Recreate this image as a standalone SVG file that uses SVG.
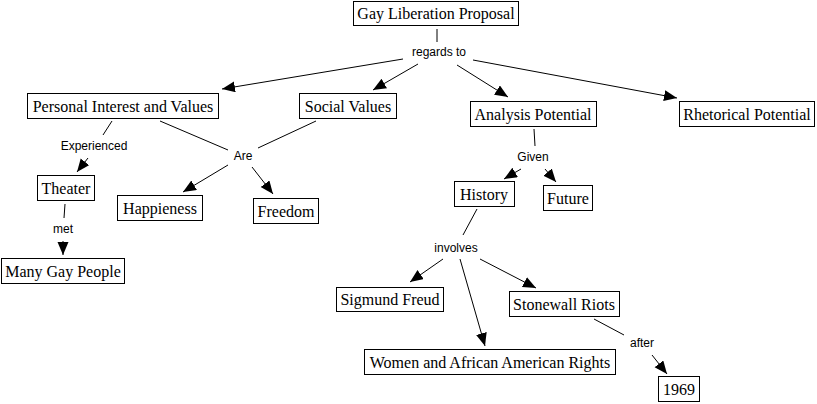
<svg xmlns="http://www.w3.org/2000/svg" width="817" height="404" viewBox="0 0 817 404">
<style>
.n rect{fill:#fff;stroke:#000;stroke-width:1}
.n text{font-family:"Liberation Serif","Times New Roman",serif;font-size:16px;fill:#000;text-anchor:middle}
.l{font-family:"Liberation Sans",Arial,sans-serif;font-size:12px;fill:#000;text-anchor:middle}
.c line{stroke:#000;stroke-width:1}
.a{marker-end:url(#ah)}
</style>
<defs>
<marker id="ah" markerUnits="userSpaceOnUse" markerWidth="14" markerHeight="12" refX="13" refY="5.5" orient="auto" viewBox="0 0 14 12">
<path d="M0,0 L13,5.5 L0,11 z" fill="#000"/>
</marker>
</defs>
<rect width="817" height="404" fill="#fff"/>
<g id="connectors" class="c">
<line x1="437" y1="29" x2="437" y2="42"/>
<line class="a" x1="403" y1="59" x2="222" y2="89"/>
<line class="a" x1="418" y1="64" x2="373" y2="90"/>
<line class="a" x1="457" y1="65" x2="508" y2="97"/>
<line class="a" x1="473" y1="60" x2="677" y2="98"/>
<line x1="112" y1="121" x2="103" y2="135"/>
<line class="a" x1="88" y1="158" x2="77" y2="172"/>
<line x1="160" y1="121" x2="228" y2="150"/>
<line x1="316" y1="121" x2="258" y2="148"/>
<line class="a" x1="228" y1="165" x2="183" y2="192"/>
<line class="a" x1="252" y1="167" x2="273" y2="194"/>
<line x1="65" y1="204" x2="64" y2="218"/>
<line class="a" x1="63" y1="241" x2="63" y2="255"/>
<line x1="534" y1="129" x2="535" y2="146"/>
<line class="a" x1="521" y1="169" x2="504" y2="179"/>
<line class="a" x1="545" y1="169" x2="556" y2="182"/>
<line x1="477" y1="209" x2="463" y2="235"/>
<line class="a" x1="443" y1="259" x2="410" y2="282"/>
<line class="a" x1="460" y1="259" x2="485" y2="346"/>
<line class="a" x1="480" y1="259" x2="536" y2="288"/>
<line x1="594" y1="319" x2="624" y2="335"/>
<line class="a" x1="652" y1="355" x2="667" y2="374"/>
</g>
<g id="labels">
<text class="l" x="439" y="56">regards to</text>
<text class="l" x="94" y="150">Experienced</text>
<text class="l" x="243" y="160">Are</text>
<text class="l" x="63" y="233">met</text>
<text class="l" x="533" y="161">Given</text>
<text class="l" x="456" y="252">involves</text>
<text class="l" x="642" y="347">after</text>
</g>
<g id="n-gay" class="n"><rect x="353.5" y="1.5" width="165" height="24"/><text x="436" y="19">Gay Liberation Proposal</text></g>
<g id="n-personal" class="n"><rect x="27.5" y="93.5" width="191" height="25"/><text x="123" y="112">Personal Interest and Values</text></g>
<g id="n-social" class="n"><rect x="299.5" y="93.5" width="97" height="25"/><text x="348" y="112">Social Values</text></g>
<g id="n-analysis" class="n"><rect x="470.5" y="101.5" width="126" height="25"/><text x="533" y="120">Analysis Potential</text></g>
<g id="n-rhetorical" class="n"><rect x="679.5" y="101.5" width="135" height="25"/><text x="747" y="120">Rhetorical Potential</text></g>
<g id="n-theater" class="n"><rect x="37.5" y="175.5" width="57" height="25"/><text x="66" y="194">Theater</text></g>
<g id="n-happieness" class="n"><rect x="117.5" y="195.5" width="85" height="25"/><text x="160" y="214">Happieness</text></g>
<g id="n-freedom" class="n"><rect x="253.5" y="198.5" width="65" height="25"/><text x="286" y="217">Freedom</text></g>
<g id="n-many" class="n"><rect x="1.5" y="258.5" width="123" height="25"/><text x="63" y="277">Many Gay People</text></g>
<g id="n-history" class="n"><rect x="454.5" y="181.5" width="60" height="25"/><text x="484" y="200">History</text></g>
<g id="n-future" class="n"><rect x="543.5" y="185.5" width="49" height="25"/><text x="568" y="204">Future</text></g>
<g id="n-freud" class="n"><rect x="336.5" y="287.5" width="107" height="24"/><text x="390" y="305">Sigmund Freud</text></g>
<g id="n-women" class="n"><rect x="364.5" y="349.5" width="251" height="25"/><text x="490" y="368">Women and African American Rights</text></g>
<g id="n-stonewall" class="n"><rect x="509.5" y="291.5" width="110" height="25"/><text x="564" y="310">Stonewall Riots</text></g>
<g id="n-1969" class="n"><rect x="658.5" y="376.5" width="41" height="25"/><text x="679" y="395">1969</text></g>
</svg>
